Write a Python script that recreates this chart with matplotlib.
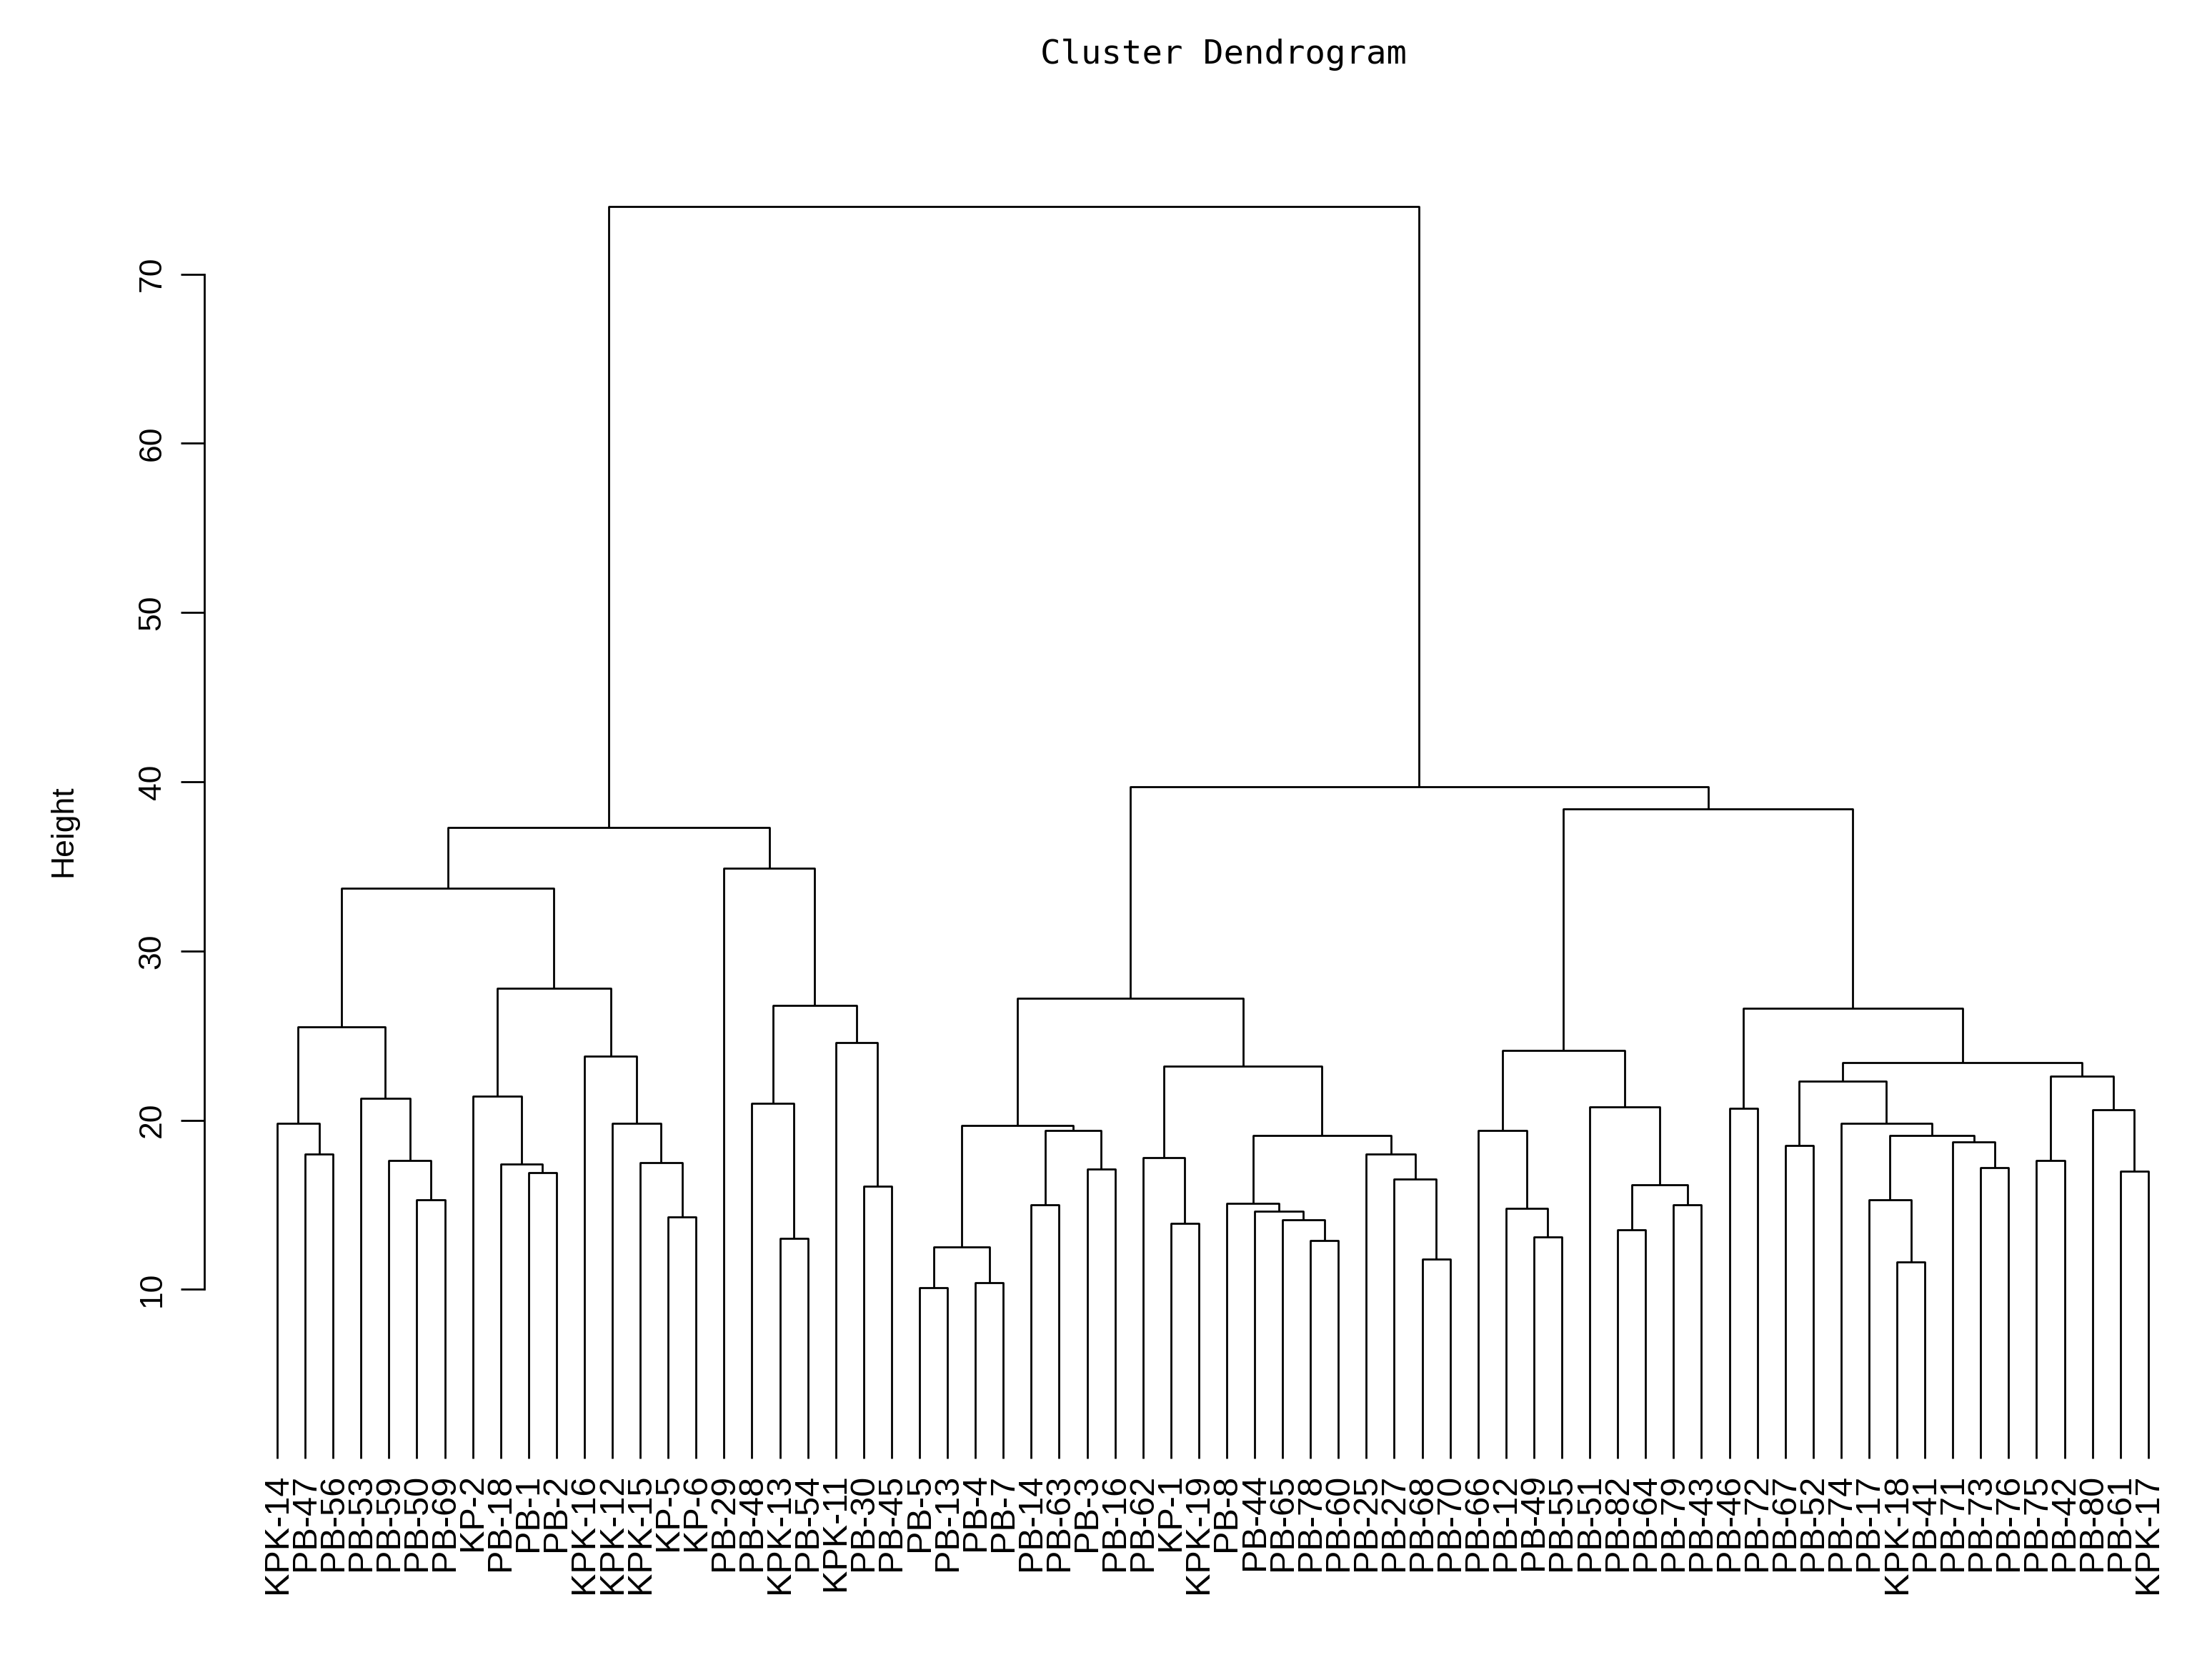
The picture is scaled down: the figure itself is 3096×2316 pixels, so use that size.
import matplotlib.pyplot as plt

plt.rcParams['font.family'] = ['Liberation Sans', 'DejaVu Sans']

# leaf labels in plotted order
labels = ["KPK-14", "PB-47", "PB-56", "PB-53", "PB-59", "PB-50", "PB-69", "KP-2", "PB-18", "PB-1",
          "PB-2", "KPK-16", "KPK-12", "KPK-15", "KP-5", "KP-6", "PB-29", "PB-48", "KPK-13", "PB-54",
          "KPK-11", "PB-30", "PB-45", "PB-5", "PB-13", "PB-4", "PB-7", "PB-14", "PB-63", "PB-3",
          "PB-16", "PB-62", "KP-1", "KPK-19", "PB-8", "PB-44", "PB-65", "PB-78", "PB-60", "PB-25",
          "PB-27", "PB-68", "PB-70", "PB-66", "PB-12", "PB-49", "PB-55", "PB-51", "PB-82", "PB-64",
          "PB-79", "PB-43", "PB-46", "PB-72", "PB-67", "PB-52", "PB-74", "PB-17", "KPK-18", "PB-41",
          "PB-71", "PB-73", "PB-76", "PB-75", "PB-42", "PB-80", "PB-61", "KPK-17"]

# merge tree: (height, left, right), leaves are label strings
A1 = (25.5, (19.8, "KPK-14", (18.0, "PB-47", "PB-56")),
      (21.3, "PB-53", (17.6, "PB-59", (15.3, "PB-50", "PB-69"))))
A2 = (27.8, (21.4, "KP-2", (17.4, "PB-18", (16.9, "PB-1", "PB-2"))),
      (23.8, "KPK-16", (19.8, "KPK-12", (17.5, "KPK-15", (14.3, "KP-5", "KP-6")))))
B = (34.9, "PB-29", (26.8, (21.0, "PB-48", (13.0, "KPK-13", "PB-54")),
                     (24.6, "KPK-11", (16.1, "PB-30", "PB-45"))))
C1 = (19.7, (12.5, (10.1, "PB-5", "PB-13"), (10.4, "PB-4", "PB-7")),
      (19.4, (15.0, "PB-14", "PB-63"), (17.1, "PB-3", "PB-16")))
C2 = (23.2, (17.8, "PB-62", (13.9, "KP-1", "KPK-19")),
      (19.1, (15.1, "PB-8", (14.6, "PB-44", (14.1, "PB-65", (12.9, "PB-78", "PB-60")))),
       (18.0, "PB-25", (16.5, "PB-27", (11.8, "PB-68", "PB-70")))))
D1 = (24.1, (19.4, "PB-66", (14.8, "PB-12", (13.1, "PB-49", "PB-55"))),
      (20.8, "PB-51", (16.2, (13.5, "PB-82", "PB-64"), (15.0, "PB-79", "PB-43"))))
D2 = (26.6, (20.7, "PB-46", "PB-72"),
      (23.4, (22.3, (18.5, "PB-67", "PB-52"),
              (19.8, "PB-74", (19.1, (15.3, "PB-17", (11.6, "KPK-18", "PB-41")),
                               (18.7, "PB-71", (17.2, "PB-73", "PB-76"))))),
       (22.6, (17.6, "PB-75", "PB-42"), (20.6, "PB-80", (17.0, "PB-61", "KPK-17")))))
tree = (74.0, (37.3, (33.7, A1, A2), B), (39.7, (27.2, C1, C2), (38.4, D1, D2)))

fig = plt.figure(figsize=(30.96, 23.16), dpi=100)
ax = fig.add_axes([0.0925, 0.088, 0.897, 0.820])
lw = 2.0


def draw(node):
    # returns (x, height) of the node top
    if isinstance(node, str):
        return labels.index(node), 0.0
    h, l, r = node
    xl, hl = draw(l)
    xr, hr = draw(r)
    ax.plot([xl, xl, xr, xr], [hl, h, h, hr], color="black", lw=lw, solid_capstyle="butt")
    return (xl + xr) / 2, h


draw(tree)

ax.set_xlim(-2.6, 68.45)
ax.set_ylim(-3, 77.2)
for s in ["top", "right", "bottom"]:
    ax.spines[s].set_visible(False)
ax.spines["left"].set_bounds(10, 70)
ax.spines["left"].set_linewidth(lw)
ax.set_yticks([10, 20, 30, 40, 50, 60, 70])
ax.set_yticklabels(["10", "20", "30", "40", "50", "60", "70"], rotation=90, va="center", fontsize=32)
ax.tick_params(axis="y", length=24, width=lw, pad=14)
ax.set_xticks([])

for i, lab in enumerate(labels):
    ax.text(i, -0.9, lab, rotation=90, ha="center", va="top", fontsize=35)

ax.set_ylabel("Height", fontsize=32, labelpad=60)
fig.text(0.553, 0.967, "Cluster Dendrogram", ha="center", va="center", fontsize=34,
         family="DejaVu Sans Mono")

fig.savefig("out.png")
